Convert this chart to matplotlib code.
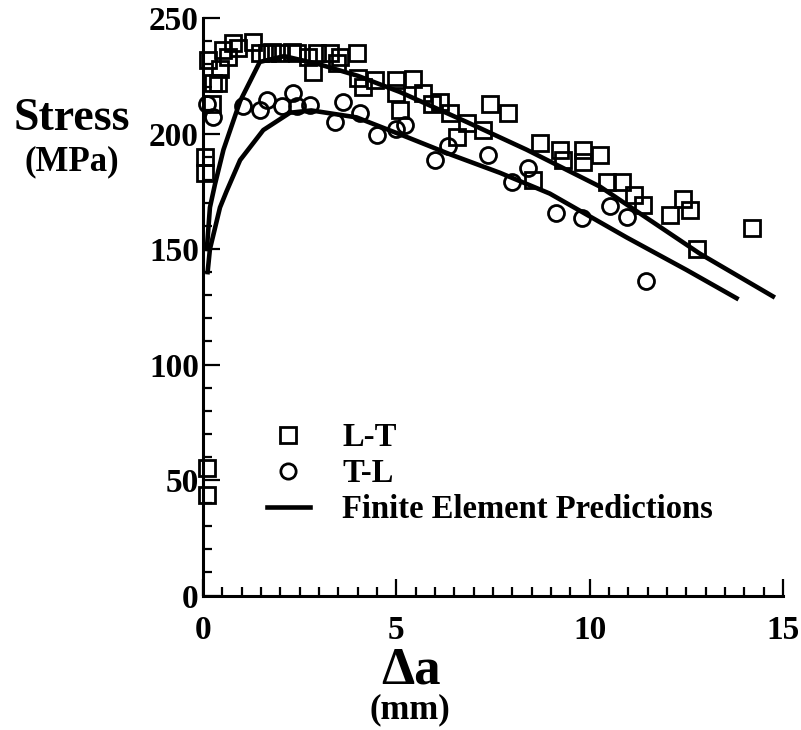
import matplotlib
matplotlib.use('Agg')
import matplotlib.pyplot as plt
from matplotlib.lines import Line2D
from matplotlib.ticker import MultipleLocator

plt.rcParams['font.family'] = ['Liberation Serif', 'DejaVu Serif']
plt.rcParams['font.weight'] = 'bold'

# L-T measurements (squares)
lt_x = [0.1, 0.1, 0.05, 0.05, 0.23, 0.39, 0.13, 0.26,
        0.44, 0.52, 0.65, 0.78, 0.9, 1.29, 1.47, 1.65, 1.78, 2.0, 2.3, 2.43,
        2.72, 2.95, 2.84, 3.28, 3.47, 3.54, 3.98, 4.0, 4.14, 4.45, 5.0, 5.0,
        5.09, 5.43, 5.69, 5.92, 6.13, 6.39, 6.57, 6.82, 7.24, 7.42, 7.89,
        8.53, 8.71, 9.23, 9.31, 9.83, 9.83, 10.27, 10.45, 10.84, 11.15,
        11.38, 12.08, 12.41, 12.6, 12.77, 14.2]
lt_y = [43.5, 55, 183, 190, 213, 222, 232, 222,
        228, 236, 233, 239, 237, 239.5, 235, 235, 235.4, 235, 235.4, 235,
        233, 235, 226.6, 234.8, 230.5, 233, 234.8, 224, 220, 223, 223, 217.5,
        210, 223.5, 217.5, 213, 213.6, 209, 198.7, 204.6, 201.6, 213, 208.8,
        180, 196, 192.8, 188.5, 193, 187.5, 190.6, 179, 179, 173.4,
        169, 164.7, 171.5, 166.9, 150, 159]

# T-L measurements (circles)
tl_x = [0.1, 0.26, 1.03, 1.47, 1.65, 2.04, 2.33, 2.43, 2.77, 3.41, 3.62,
        4.06, 4.5, 5.0, 5.22, 6.0, 6.34, 7.37, 7.99, 8.4, 9.12, 9.8, 10.52,
        10.96, 11.45]
tl_y = [213, 207, 212, 210, 214.5, 212, 217.5, 212, 212.3, 205, 213.6,
        209, 199.5, 202, 203.5, 188.5, 194.5, 190.5, 179, 185, 165.5, 163.4,
        168.5, 164, 136]

# finite element predictions
fe_lt_x = [0.1, 0.18, 0.31, 0.53, 0.96, 1.47, 2.1, 3.0, 4.0, 5.09, 6.82,
           8.37, 10.27, 12.85, 14.74]
fe_lt_y = [150, 168, 178, 193, 214, 231, 233.5, 230, 225, 218, 205,
           193, 177, 148, 129.5]
fe_tl_x = [0.12, 0.18, 0.44, 0.61, 0.96, 1.56, 2.25, 2.8, 3.97, 5.27, 6.39,
           7.68, 8.97, 10.96, 12.5, 13.8]
fe_tl_y = [140, 150, 168, 175, 188.5, 201.5, 209, 210, 207, 198.5, 191,
           183, 174, 155, 141, 128.7]

fig = plt.figure(figsize=(8.01, 7.30), dpi=100)
ax = fig.add_axes([0.2534, 0.1842, 0.7241, 0.7911])

mk = dict(linestyle='none', markerfacecolor='none', markeredgecolor='black',
          markeredgewidth=2.0, clip_on=False)
ax.plot(lt_x, lt_y, marker='s', markersize=12, **mk)
ax.plot(tl_x, tl_y, marker='o', markersize=11.5, **mk)
ax.plot(fe_lt_x, fe_lt_y, color='black', lw=3.3)
ax.plot(fe_tl_x, fe_tl_y, color='black', lw=3.3)

ax.set_xlim(0, 15)
ax.set_ylim(0, 250)
ax.xaxis.set_major_locator(MultipleLocator(5))
ax.xaxis.set_minor_locator(MultipleLocator(0.5))
ax.yaxis.set_major_locator(MultipleLocator(50))
ax.yaxis.set_minor_locator(MultipleLocator(10))
for s in ['top', 'right']:
    ax.spines[s].set_visible(False)
for s in ['left', 'bottom']:
    ax.spines[s].set_linewidth(2.2)
ax.tick_params(which='both', direction='in', width=1.6, labelsize=24)
ax.tick_params(which='major', length=12)
ax.tick_params(which='minor', length=6.5)
ax.tick_params(axis='y', pad=3)
ax.tick_params(axis='x', pad=14)

fig.text(0.09, 0.837, 'Stress', fontsize=33, ha='center', va='center')
fig.text(0.09, 0.778, '(MPa)', fontsize=25, ha='center', va='center')
fig.text(0.513, 0.082, 'Δa', fontsize=38, ha='center', va='center')
fig.text(0.512, 0.027, '(mm)', fontsize=25, ha='center', va='center')

handles = [
    Line2D([], [], marker='s', markersize=11, **mk),
    Line2D([], [], marker='o', markersize=11, **mk),
    Line2D([], [], color='black', lw=3.3),
]
ax.legend(handles, ['L-T', 'T-L', 'Finite Element Predictions'],
          loc='upper left', bbox_to_anchor=(0.11, 0.30), frameon=False,
          fontsize=23.5, handlelength=1.32, handletextpad=1.0,
          labelspacing=0.15, borderpad=0, borderaxespad=0)

fig.savefig('out.png', dpi=100)
